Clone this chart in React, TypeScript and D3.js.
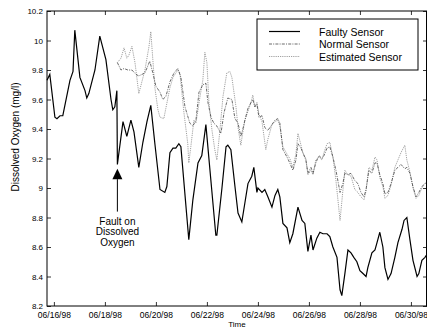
import { useRef, useEffect } from "react"
import * as d3 from "d3"

// time in days after 06/16/98 00:00, dissolved oxygen in mg/l
const faultyDays = [
  -0.27, -0.16, 0.04, 0.12, 0.24, 0.35, 0.63, 0.75, 0.82, 1.02, 1.22, 1.29, 1.37, 1.61, 1.8, 2.04, 2.24, 2.31,
  2.39, 2.47, 2.49, 2.71, 2.86, 3.02, 3.14, 3.33, 3.49, 3.65, 3.8, 3.96, 4.16, 4.35, 4.43, 4.55, 4.67, 4.78, 4.9,
  4.98, 5.29, 5.45, 5.65, 5.8, 5.96, 6.12, 6.35, 6.39, 6.59, 6.75, 6.82, 6.94, 7.1, 7.22, 7.37, 7.49, 7.61, 7.76,
  7.84, 7.96, 8.0, 8.16, 8.27, 8.39, 8.55, 8.67, 8.78, 8.86, 8.98, 9.14, 9.25, 9.37, 9.57, 9.73, 9.84, 9.96,
  10.08, 10.16, 10.31, 10.43, 10.55, 10.71, 10.82, 10.94, 11.1, 11.22, 11.29, 11.41, 11.53, 11.65, 11.76, 11.88,
  12.0, 12.12, 12.24, 12.31, 12.47, 12.59, 12.67, 12.78, 12.9, 12.98, 13.1, 13.22, 13.37, 13.49, 13.65, 13.73,
  13.84, 13.96, 14.08, 14.24, 14.31, 14.43, 14.55, 14.63,
]
const faultyDO = [
  9.73, 9.77, 9.48, 9.47, 9.49, 9.49, 9.73, 9.79, 10.07, 9.75, 9.66, 9.61, 9.64, 9.8, 10.03, 9.87, 9.6, 9.53,
  9.55, 9.66, 9.16, 9.45, 9.35, 9.46, 9.38, 9.14, 9.31, 9.45, 9.56, 9.3, 8.99, 8.97, 9.01, 9.24, 9.27, 9.27, 9.3,
  9.28, 8.65, 8.92, 9.17, 9.22, 9.43, 9.12, 8.68, 8.68, 9.0, 9.28, 9.29, 9.26, 9.01, 8.83, 8.77, 8.9, 9.03, 9.08,
  9.14, 8.97, 9.0, 8.97, 8.99, 8.94, 8.87, 8.95, 8.99, 8.94, 8.76, 8.73, 8.63, 8.69, 8.87, 8.78, 8.76, 8.57,
  8.68, 8.58, 8.66, 8.7, 8.69, 8.69, 8.67, 8.6, 8.53, 8.31, 8.27, 8.42, 8.58, 8.56, 8.53, 8.5,
  8.44, 8.42, 8.4, 8.46, 8.56, 8.58, 8.63, 8.7, 8.6, 8.46, 8.38, 8.42, 8.53, 8.63, 8.72, 8.78,
  8.8, 8.65, 8.51, 8.4, 8.42, 8.51, 8.53, 8.55,
]

const normalDays = [
  2.49, 2.63, 2.75, 2.9, 3.06, 3.22, 3.33, 3.45, 3.57, 3.76, 3.88, 4.0, 4.16, 4.27, 4.39, 4.55, 4.71, 4.86, 4.98,
  5.14, 5.33, 5.45, 5.57, 5.69, 5.84, 5.96, 6.04, 6.16, 6.27, 6.39, 6.55, 6.67, 6.82, 6.98, 7.1, 7.22, 7.33, 7.41,
  7.49, 7.61, 7.73, 7.8, 7.88, 7.96, 8.04, 8.16, 8.27, 8.39, 8.55, 8.67, 8.78, 8.86, 8.98, 9.14, 9.25, 9.37, 9.49,
  9.57, 9.69, 9.76, 9.88, 9.96, 10.08, 10.16, 10.27, 10.39, 10.51, 10.59, 10.71, 10.82, 10.94, 11.06, 11.22,
  11.33, 11.41, 11.53, 11.65, 11.8, 11.92, 12.04, 12.16, 12.24, 12.35, 12.47, 12.59, 12.67, 12.78, 12.9, 12.98,
  13.1, 13.22, 13.37, 13.49, 13.61, 13.76, 13.84, 13.96, 14.08, 14.2, 14.31, 14.43, 14.55, 14.63,
]
const normalDO = [
  9.85, 9.8, 9.81, 9.8, 9.8, 9.77, 9.76, 9.77, 9.78, 9.86, 9.78, 9.69, 9.65, 9.6, 9.62, 9.72, 9.78, 9.81, 9.75,
  9.55, 9.44, 9.42, 9.46, 9.65, 9.7, 9.71, 9.58, 9.48, 9.44, 9.42, 9.37, 9.51, 9.61, 9.6, 9.47, 9.44, 9.35, 9.4,
  9.46, 9.54, 9.58, 9.6, 9.55, 9.57, 9.48, 9.49, 9.41, 9.39, 9.43, 9.46, 9.47, 9.44, 9.26, 9.21, 9.17, 9.12, 9.19,
  9.3, 9.27, 9.24, 9.19, 9.1, 9.14, 9.1, 9.17, 9.22, 9.2, 9.22, 9.27, 9.28, 9.21, 9.12, 8.97,
  9.03, 9.1, 9.09, 9.1, 9.05, 9.03, 8.97, 8.94, 8.99, 9.12, 9.1, 9.17, 9.17, 9.09, 9.03, 8.96,
  8.97, 9.03, 9.12, 9.14, 9.16, 9.13, 9.14, 9.1, 9.01, 8.94, 8.97, 9.01, 9.03, 9.04,
]

const estimatedDays = [
  2.49, 2.63, 2.75, 2.86, 2.94, 3.06, 3.18, 3.33, 3.45, 3.57, 3.73, 3.8, 3.88, 3.96, 4.08, 4.16, 4.31, 4.39, 4.55,
  4.67, 4.86, 4.94, 5.1, 5.25, 5.29, 5.37, 5.49, 5.57, 5.73, 5.84, 5.92, 6.0, 6.08, 6.2, 6.31, 6.39, 6.51, 6.63,
  6.78, 6.9, 6.98, 7.14, 7.22, 7.33, 7.41, 7.49, 7.61, 7.73, 7.8, 7.88, 7.96, 8.04, 8.16, 8.31, 8.39, 8.55, 8.67,
  8.78, 8.86, 8.98, 9.14, 9.25, 9.37, 9.49, 9.57, 9.69, 9.76, 9.88, 9.96, 10.08, 10.16, 10.27, 10.39, 10.51,
  10.59, 10.71, 10.82, 10.94, 11.06, 11.22, 11.33, 11.41, 11.53, 11.65, 11.8, 11.92, 12.04, 12.16, 12.24, 12.35,
  12.47, 12.59, 12.67, 12.78, 12.9, 12.98, 13.1, 13.22, 13.37, 13.49, 13.61, 13.76, 13.84, 13.96, 14.08, 14.2,
  14.31, 14.43, 14.55, 14.63,
]
const estimatedDO = [
  9.85, 9.88, 9.95, 9.88, 9.9, 9.96, 9.85, 9.64, 9.72, 9.8, 9.96, 10.06, 9.87, 9.68, 9.53, 9.48, 9.47, 9.54, 9.68,
  9.75, 9.8, 9.78, 9.51, 9.3, 9.17, 9.28, 9.46, 9.44, 9.62, 9.73, 9.92, 9.85, 9.58, 9.39, 9.26, 9.19, 9.39, 9.62,
  9.78, 9.79, 9.75, 9.55, 9.41, 9.29, 9.38, 9.46, 9.52, 9.58, 9.63, 9.55, 9.58, 9.5, 9.45, 9.26, 9.33, 9.43, 9.45,
  9.46, 9.42, 9.28, 9.23, 9.2, 9.14, 9.23, 9.37, 9.29, 9.24, 9.2, 9.09, 9.12, 9.09, 9.19, 9.21, 9.19,
  9.24, 9.3, 9.31, 9.21, 9.05, 8.78, 8.98, 9.12, 9.09, 9.08, 8.99, 8.97, 8.94, 8.92, 8.98, 9.14,
  9.12, 9.21, 9.19, 9.07, 9.01, 8.93, 8.95, 9.02, 9.14, 9.19, 9.24, 9.29, 9.19, 9.11, 9.0, 8.93,
  8.95, 9.0, 9.03, 9.04,
]

const yTicks = [8.2, 8.4, 8.6, 8.8, 9, 9.2, 9.4, 9.6, 9.8, 10, 10.2]
const xTickLabels = ["06/16/98", "06/18/98", "06/20/98", "06/22/98", "06/24/98", "06/26/98", "06/28/98", "06/30/98"]
const legendLabels = ["Faulty Sensor", "Normal Sensor", "Estimated Sensor"]
const faultDay = 2.49
const faultLabel = ["Fault on", "Dissolved", "Oxygen"]

const start = new Date(1998, 5, 16)
const toDate = (d: number) => new Date(start.getTime() + d * 86400000)

export default function App() {
  const svgRef = useRef<SVGSVGElement | null>(null)

  useEffect(() => {
    if (!svgRef.current) return
    const svg = d3.select(svgRef.current)
    svg.selectAll("*").remove()

    const W = 427
    const H = 331
    const margin = { top: 11, right: 0, bottom: 25, left: 47 }
    const width = W - margin.left - margin.right
    const height = H - margin.top - margin.bottom

    const g = svg.append("g").attr("transform", `translate(${margin.left},${margin.top})`)

    const x = d3
      .scaleTime()
      .domain([toDate(faultyDays[0]), toDate(faultyDays[faultyDays.length - 1])])
      .range([0, width])
    const y = d3.scaleLinear().domain([8.2, 10.2]).range([height, 0])

    const xTickDates = xTickLabels.map((s) => d3.timeParse("%m/%d/%y")(s) as Date)
    const fmtY = (d: number) => String(+d.toFixed(1))

    // axes, ticks pointing in
    const styleAxis = (sel: any, fs: number) => {
      sel.select(".domain").remove()
      sel.selectAll("line").attr("stroke", "#000").attr("stroke-width", 0.8)
      sel.selectAll("text").attr("font-size", fs + "px").attr("fill", "#000")
    }

    g.append("g")
      .call(d3.axisLeft(y).tickValues(yTicks).tickFormat(fmtY as any).tickSizeInner(-4).tickSizeOuter(0).tickPadding(4))
      .call((s) => styleAxis(s, 8))
    g.append("g")
      .attr("transform", `translate(${width},0)`)
      .call(d3.axisRight(y).tickValues(yTicks).tickFormat(() => "").tickSizeInner(-4).tickSizeOuter(0))
      .call((s) => styleAxis(s, 8))
    g.append("g")
      .attr("transform", `translate(0,${height})`)
      .call(
        d3
          .axisBottom(x)
          .tickValues(xTickDates)
          .tickFormat(d3.timeFormat("%m/%d/%y") as any)
          .tickSizeInner(-4)
          .tickSizeOuter(0)
          .tickPadding(6),
      )
      .call((s) => styleAxis(s, 8.5))
    g.append("g")
      .call(d3.axisTop(x).tickValues(xTickDates).tickFormat(() => "").tickSizeInner(-4).tickSizeOuter(0))
      .call((s) => styleAxis(s, 8))

    // lines
    const line = (days: number[], vals: number[]) =>
      d3
        .line<number>()
        .x((_, i) => x(toDate(days[i])))
        .y((v) => y(v))(vals)

    g.append("path")
      .attr("d", line(estimatedDays, estimatedDO))
      .attr("fill", "none")
      .attr("stroke", "#888")
      .attr("stroke-width", 0.8)
      .attr("stroke-dasharray", "1.2,1")
    g.append("path")
      .attr("d", line(normalDays, normalDO))
      .attr("fill", "none")
      .attr("stroke", "#444")
      .attr("stroke-width", 0.8)
      .attr("stroke-dasharray", "3,1.2,1,1.2")
    g.append("path")
      .attr("d", line(faultyDays, faultyDO))
      .attr("fill", "none")
      .attr("stroke", "#000")
      .attr("stroke-width", 1.2)

    // box
    g.append("rect")
      .attr("width", width - 0.5)
      .attr("height", height)
      .attr("fill", "none")
      .attr("stroke", "#000")
      .attr("stroke-width", 1)

    // fault annotation
    const fx = x(toDate(faultDay))
    const tipY = y(9.13)
    const baseY = y(9.06)
    g.append("path")
      .attr("d", `M${fx},${tipY}L${fx - 5},${baseY}L${fx + 5},${baseY}Z`)
      .attr("fill", "#000")
    g.append("line")
      .attr("x1", fx)
      .attr("x2", fx)
      .attr("y1", baseY)
      .attr("y2", y(8.84))
      .attr("stroke", "#000")
      .attr("stroke-width", 1)
    g.append("g")
      .selectAll("text")
      .data(faultLabel)
      .join("text")
      .attr("x", fx)
      .attr("y", (_, i) => y(8.75) + i * 10.5)
      .attr("text-anchor", "middle")
      .attr("font-size", "10px")
      .text((d) => d)

    // legend
    const lx = 257 - margin.left
    const ly = 19 - margin.top
    const leg = g.append("g").attr("transform", `translate(${lx},${ly})`)
    leg.append("rect").attr("width", 161).attr("height", 51).attr("fill", "#fff").attr("stroke", "#000").attr("stroke-width", 1)
    const legStyles = [
      { stroke: "#000", w: 1.2, dash: null },
      { stroke: "#444", w: 0.8, dash: "3,1.2,1,1.2" },
      { stroke: "#888", w: 0.8, dash: "1.2,1" },
    ]
    legendLabels.forEach((label, i) => {
      const yy = 12.5 + i * 12.5
      leg.append("line")
        .attr("x1", 12)
        .attr("x2", 43)
        .attr("y1", yy)
        .attr("y2", yy)
        .attr("stroke", legStyles[i].stroke)
        .attr("stroke-width", legStyles[i].w)
        .attr("stroke-dasharray", legStyles[i].dash)
      leg.append("text").attr("x", 62).attr("y", yy + 4).attr("font-size", "10.5px").text(label)
    })

    // axis titles
    g.append("text")
      .attr("x", width / 2)
      .attr("y", height + 21)
      .attr("text-anchor", "middle")
      .attr("font-size", "8px")
      .text("Time")
    g.append("text")
      .attr("transform", "rotate(-90)")
      .attr("x", -(137 - margin.top))
      .attr("y", -margin.left + 19)
      .attr("text-anchor", "middle")
      .attr("font-size", "10px")
      .text("Dissolved Oxygen (mg/l)")
  }, [])

  return (
    <svg
      ref={svgRef}
      width={427}
      height={331}
      style={{ position: "absolute", left: 0, top: 0, background: "#fff", fontFamily: "'Liberation Sans', Arial, sans-serif" }}
    ></svg>
  )
}
